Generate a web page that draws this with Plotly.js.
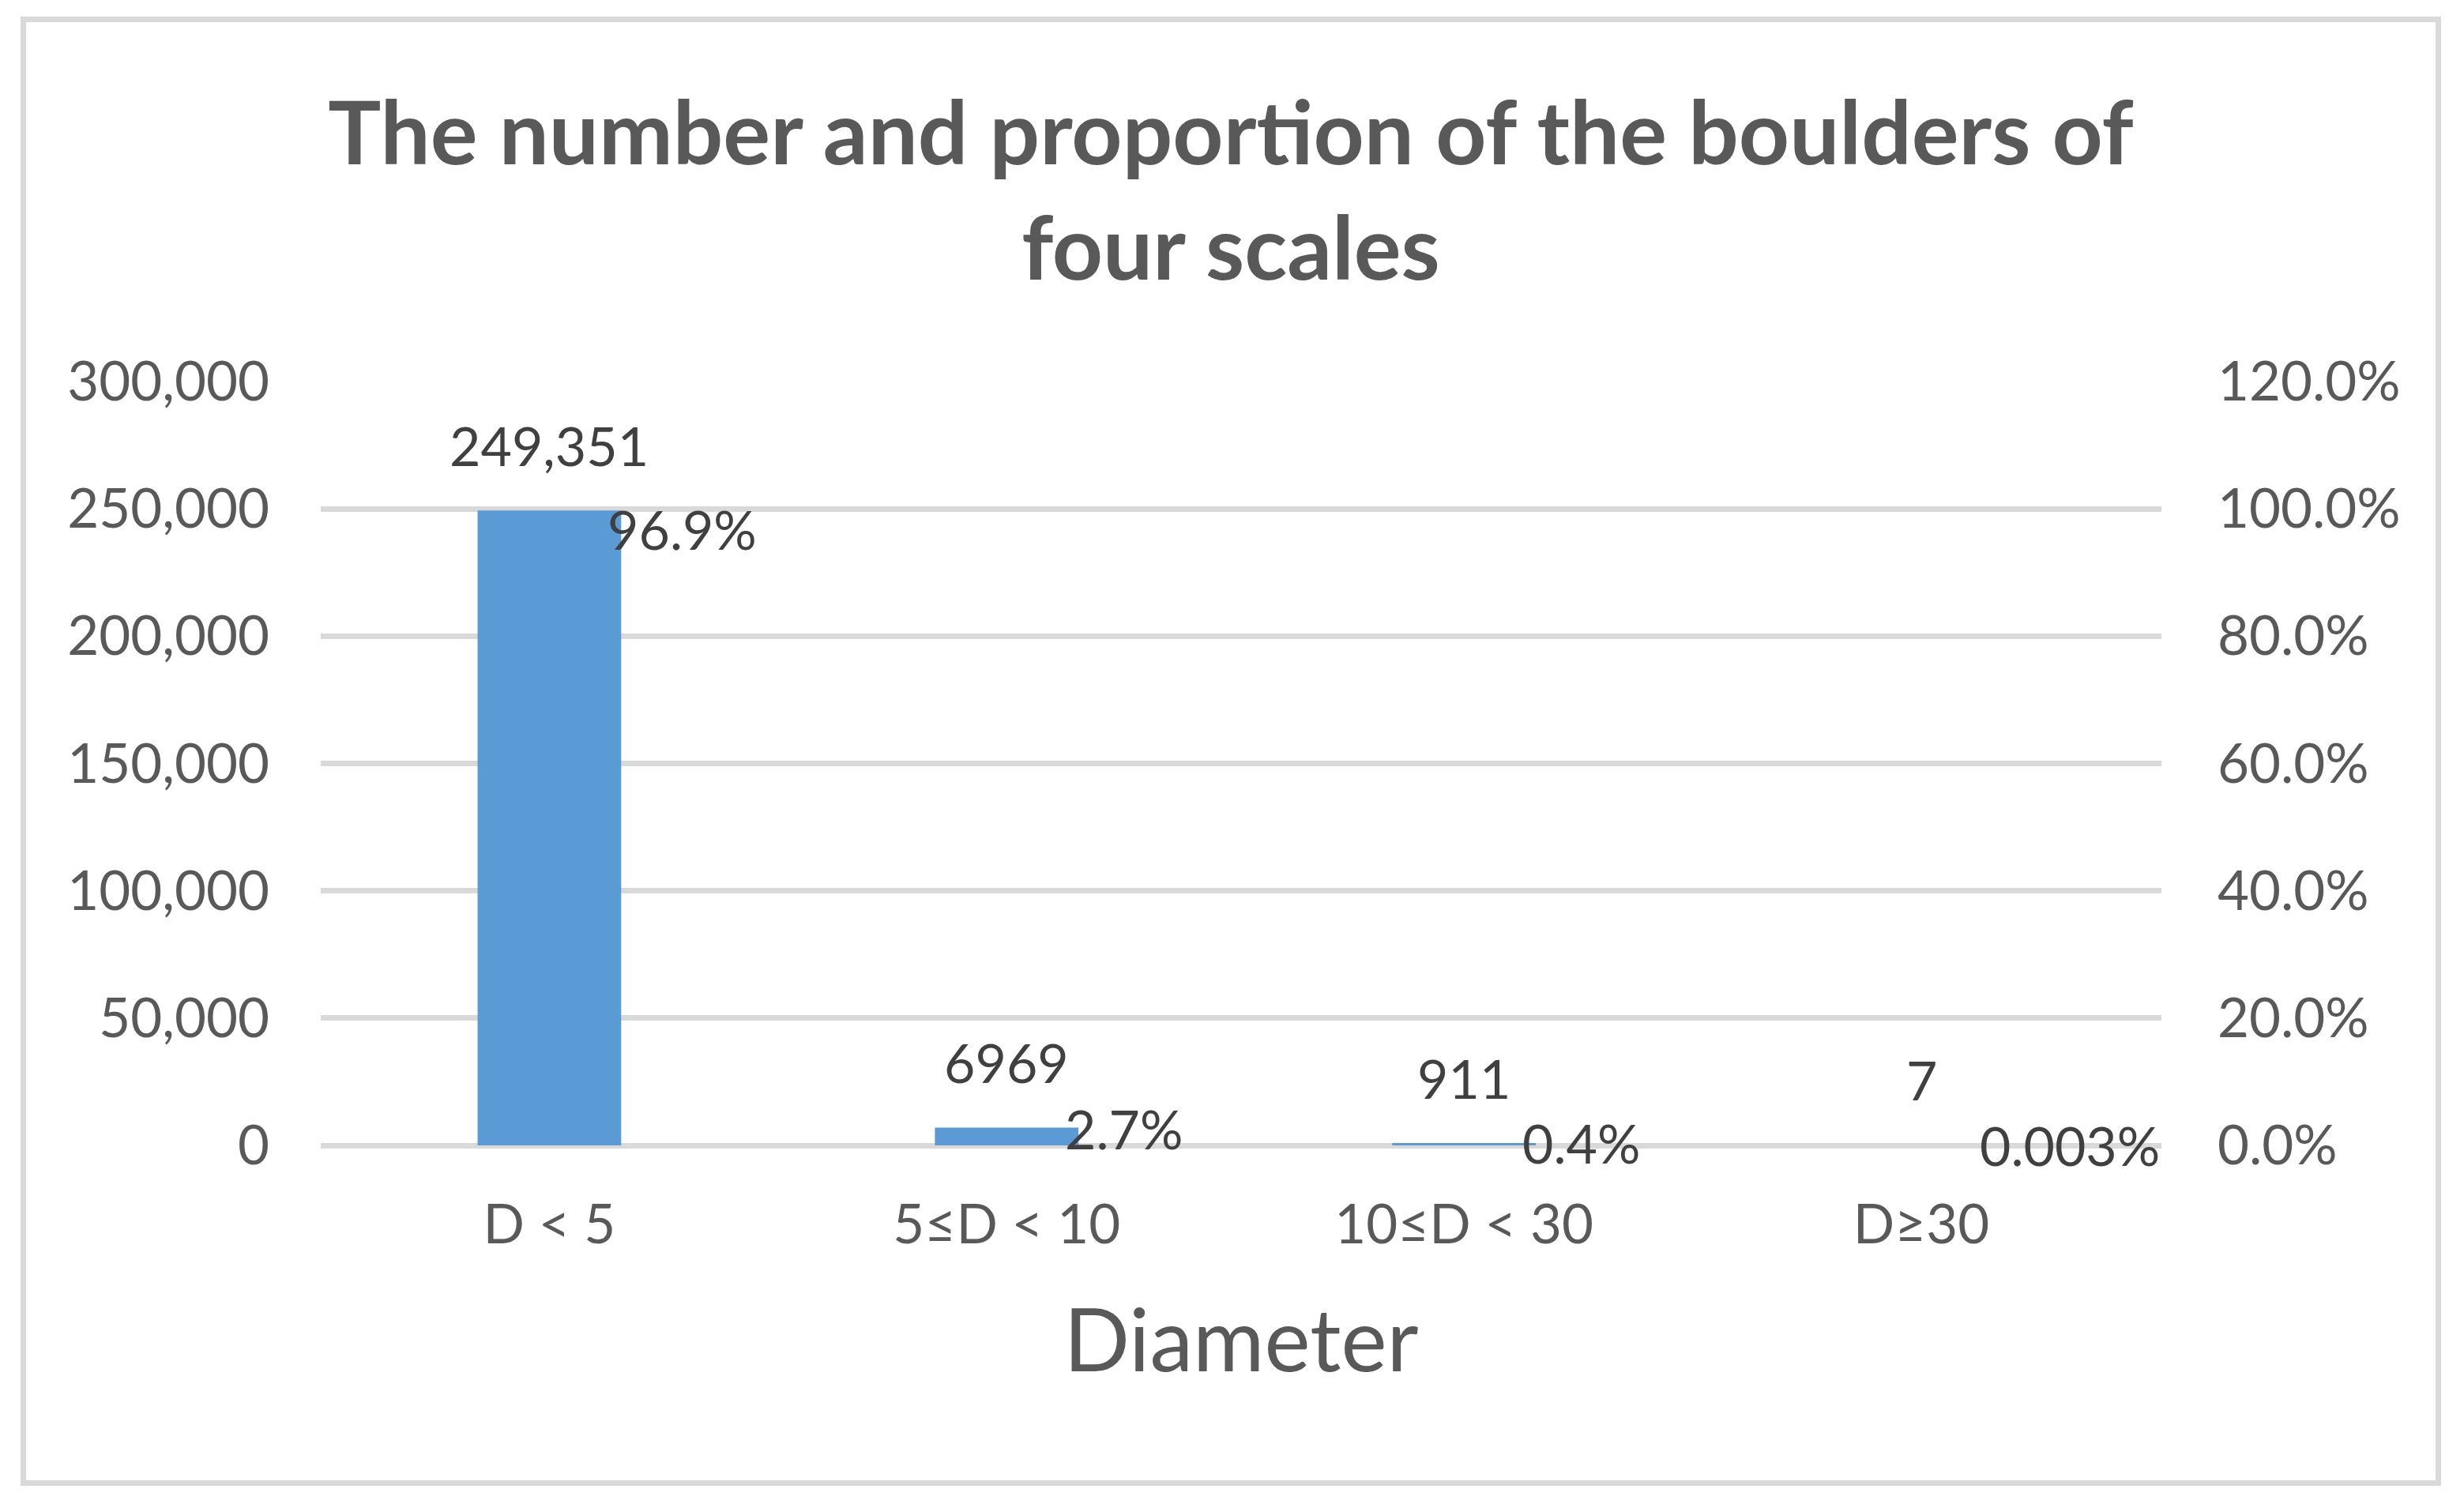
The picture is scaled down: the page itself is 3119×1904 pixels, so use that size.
<!DOCTYPE html>
<html>
<head>
<meta charset="utf-8">
<script src="https://cdn.plot.ly/plotly-3.0.1.min.js"></script>
<style>
  html, body { margin: 0; padding: 0; background: #ffffff; }
  #frame {
    position: absolute; left: 26px; top: 21px;
    width: 3064px; height: 1860px;
    border: 7px solid #d9d9d9; box-sizing: border-box;
    background: #ffffff;
  }
  #chart { width: 3050px; height: 1846px; }
</style>
</head>
<body>
<div id="frame"><div id="chart"></div></div>
<script>
// ---- data ----
const categories = ['D < 5', '5≤D < 10', '10≤D < 30', 'D≥30'];
const counts = [249351, 6969, 911, 7];
const countLabels = ['249,351', '6969', '911', '7'];
const proportions = [0.969, 0.027, 0.004, 0.00003];
const proportionLabels = ['96.9%', '2.7%', '0.4%', '0.003%'];
const titleText = 'The number and proportion of the boulders of<br>four scales';
const xTitle = 'Diameter';

// ---- styles ----
const FONT = 'Lato, "Open Sans", sans-serif';
const GRID = '#d9d9d9';
const TICK_COLOR = '#595959';
const LABEL_COLOR = '#404040';
const BAR_COLOR = '#5b9bd5';
const TICK_SIZE = 69;

const traces = [
  {
    type: 'bar', x: categories, y: counts, yaxis: 'y',
    marker: { color: BAR_COLOR }, hoverinfo: 'x+y', showlegend: false
  },
  {
    type: 'scatter', mode: 'markers', x: categories, y: proportions, yaxis: 'y2',
    marker: { size: 1, opacity: 0 }, hoverinfo: 'x+y', showlegend: false
  }
];

const annotations = [];
categories.forEach((c, i) => {
  annotations.push({
    x: c, y: counts[i], xref: 'x', yref: 'y',
    text: countLabels[i], showarrow: false,
    xanchor: 'center', yanchor: 'middle', yshift: 83,
    font: { family: FONT, size: 68, color: LABEL_COLOR }
  });
  annotations.push({
    x: c, y: proportions[i], xref: 'x', yref: 'y2',
    text: proportionLabels[i], showarrow: false,
    xanchor: 'left', yanchor: 'middle', xshift: 72,
    font: { family: FONT, size: 68, color: LABEL_COLOR }
  });
});

const layout = {
  width: 3050, height: 1846,
  paper_bgcolor: '#ffffff', plot_bgcolor: '#ffffff',
  margin: { l: 373, r: 347, t: 455, b: 424, pad: 0 },
  font: { family: FONT, color: TICK_COLOR },
  title: {
    text: titleText,
    x: 0.5, xanchor: 'center', xref: 'container',
    y: 1 - 180 / 1846, yanchor: 'top', yref: 'container',
    font: { family: FONT, size: 112, weight: 'bold', color: TICK_COLOR }
  },
  bargap: 0.686,
  xaxis: {
    type: 'category',
    showgrid: false, showline: false, zeroline: false, ticks: '',
    tickfont: { family: FONT, size: TICK_SIZE, color: TICK_COLOR },
    ticklabelstandoff: 54,
    title: { text: xTitle, font: { family: FONT, size: 110, color: TICK_COLOR }, standoff: 70 }
  },
  yaxis: {
    range: [0, 300000], dtick: 50000, tickformat: ',d',
    showgrid: true, gridcolor: GRID, gridwidth: 7,
    zeroline: true, zerolinecolor: GRID, zerolinewidth: 7,
    showline: false, ticks: '',
    tickfont: { family: FONT, size: TICK_SIZE, color: TICK_COLOR },
    ticklabelstandoff: 64
  },
  yaxis2: {
    overlaying: 'y', side: 'right',
    range: [0, 1.2], dtick: 0.2, tickformat: '.1%',
    showgrid: false, zeroline: false, showline: false, ticks: '',
    tickfont: { family: FONT, size: TICK_SIZE, color: TICK_COLOR },
    ticklabelstandoff: 70
  },
  annotations: annotations,
  showlegend: false
};

Plotly.newPlot('chart', traces, layout, { staticPlot: true, displayModeBar: false });
</script>
</body>
</html>
